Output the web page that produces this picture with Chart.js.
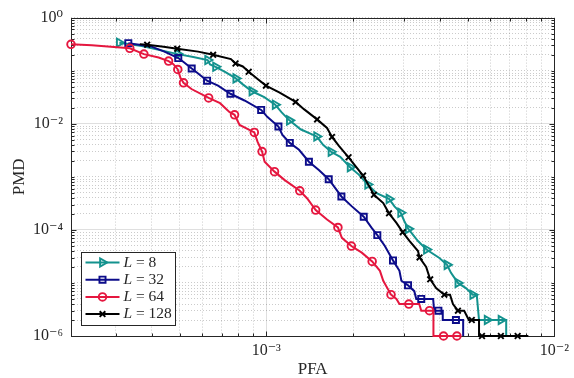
<!DOCTYPE html>
<html>
<head>
<meta charset="utf-8">
<script src="https://cdn.jsdelivr.net/npm/chart.js@4.4.1/dist/chart.umd.min.js"></script>
<style>
  html, body { margin: 0; padding: 0; background: #fff; }
</style>
</head>
<body>
<canvas id="roc" width="574" height="378"></canvas>
<script>
// axis limits
const xMin = 2.1e-4, xMax = 1e-2;
const yMin = 1e-6, yMax = 1;

// labelled ticks
const xLabelTicks = [1e-3, 1e-2];
const xLabelText = ["10\u207B\u00B3", "10\u207B\u00B2"];
const yLabelTicks = [1, 1e-2, 1e-4, 1e-6];
const yLabelText = ["10\u2070", "10\u207B\u00B2", "10\u207B\u2074", "10\u207B\u2076"];

// L values for the legend
const legendL = [8, 32, 64, 128];

// L = 8
const pfa8 = [3.09e-4, 3.70e-4, 4.93e-4, 5.58e-4, 6.26e-4, 6.38e-4, 6.67e-4, 7.24e-4, 7.84e-4, 8.29e-4,
  8.92e-4, 9.84e-4, 1.074e-3, 1.129e-3, 1.203e-3, 1.315e-3, 1.496e-3, 1.575e-3, 1.678e-3, 1.806e-3,
  1.955e-3, 2.095e-3, 2.249e-3, 2.415e-3, 2.667e-3, 2.786e-3, 2.928e-3, 3.016e-3, 3.112e-3, 3.362e-3,
  3.598e-3, 3.989e-3, 4.240e-3, 4.377e-3, 4.626e-3, 4.929e-3, 5.209e-3, 5.377e-3, 5.476e-3, 5.844e-3,
  6.53e-3, 6.804e-3, 6.804e-3];
const pmd8 = [0.3365, 0.292, 0.2051, 0.1804, 0.1585, 0.1306, 0.1183, 0.0926, 0.0715, 0.0552,
  0.0409, 0.0316, 0.02285, 0.01654, 0.01158, 0.00786, 0.00576, 0.004, 0.00296, 0.002386,
  0.001518, 0.0011, 0.000715, 0.000491, 0.000383, 0.000277, 0.0002097, 0.0001454, 0.0001044, 6.15e-5,
  4.26e-5, 2.96e-5, 2.19e-5, 1.55e-5, 1e-5, 8e-6, 6e-6, 6e-6, 2e-6, 2e-6,
  2e-6, 2e-6, 1e-6];
const mark8 = [0, 2, 4, 6, 8, 10, 12, 14, 16, 18, 20, 22, 24, 26, 28, 30, 32, 34, 36, 39, 40];

// L = 32
const pfa32 = [3.32e-4, 3.96e-4, 4.43e-4, 4.95e-4, 5.19e-4, 5.51e-4, 5.80e-4, 6.23e-4, 6.80e-4, 7.51e-4,
  8.40e-4, 9.60e-4, 1.010e-3, 1.102e-3, 1.138e-3, 1.207e-3, 1.299e-3, 1.406e-3, 1.522e-3, 1.647e-3,
  1.736e-3, 1.823e-3, 1.982e-3, 2.179e-3, 2.322e-3, 2.429e-3, 2.580e-3, 2.753e-3, 2.899e-3, 2.944e-3,
  3.105e-3, 3.264e-3, 3.316e-3, 3.451e-3, 3.795e-3, 3.825e-3, 3.957e-3, 4.098e-3, 4.098e-3, 4.553e-3,
  4.824e-3, 4.824e-3];
const pmd32 = [0.3295, 0.2895, 0.2285, 0.1727, 0.1423, 0.1099, 0.0886, 0.0648, 0.0522, 0.0367,
  0.0274, 0.01819, 0.01334, 0.00887, 0.00615, 0.004357, 0.003224, 0.001924, 0.001346, 0.000898,
  0.00061, 0.000426, 0.000277, 0.0001765, 0.000109, 7.96e-5, 4.96e-5, 2.66e-5, 1.69e-5, 1.10e-5,
  9e-6, 7e-6, 5e-6, 5e-6, 5e-6, 3e-6, 3e-6, 3e-6, 2e-6, 2e-6,
  2e-6, 1e-6];
const mark32 = [0, 3, 5, 7, 9, 11, 13, 15, 17, 19, 21, 23, 25, 27, 30, 33, 36, 39];

// L = 64
const pfa64 = [2.10e-4, 2.48e-4, 3.36e-4, 3.76e-4, 4.23e-4, 4.58e-4, 4.76e-4, 4.93e-4, 5.03e-4, 5.16e-4,
  5.50e-4, 6.31e-4, 6.91e-4, 7.46e-4, 7.76e-4, 8.08e-4, 9.09e-4, 9.33e-4, 9.67e-4, 9.87e-4,
  1.068e-3, 1.156e-3, 1.307e-3, 1.387e-3, 1.484e-3, 1.625e-3, 1.773e-3, 1.830e-3, 1.974e-3, 2.145e-3,
  2.331e-3, 2.480e-3, 2.547e-3, 2.710e-3, 2.830e-3, 2.899e-3, 3.125e-3, 3.396e-3, 3.451e-3, 3.686e-3,
  3.804e-3, 3.804e-3, 4.124e-3, 4.589e-3, 4.710e-3];
const pmd64 = [0.313, 0.302, 0.2634, 0.2051, 0.1765, 0.1518, 0.1323, 0.1053, 0.0746, 0.0589,
  0.0451, 0.0306, 0.02436, 0.01654, 0.01473, 0.00946, 0.00685, 0.00455, 0.002984, 0.001924,
  0.001251, 0.000875, 0.000545, 0.000391, 0.0002364, 0.0001564, 0.0001109, 7.09e-5, 4.96e-5, 3.72e-5,
  2.54e-5, 1.69e-5, 1.10e-5, 6e-6, 5e-6, 4e-6, 4e-6, 4e-6, 3e-6, 3e-6,
  3e-6, 1e-6, 1e-6, 1e-6, 1e-6];
const mark64 = [0, 2, 3, 5, 7, 9, 11, 14, 16, 18, 20, 22, 24, 26, 28, 30, 33, 36, 39, 42, 43];

// L = 128
const pfa128 = [3.64e-4, 3.86e-4, 4.40e-4, 4.91e-4, 5.80e-4, 6.54e-4, 7.54e-4, 7.82e-4, 8.29e-4, 8.69e-4,
  9.33e-4, 9.97e-4, 1.109e-3, 1.264e-3, 1.351e-3, 1.501e-3, 1.625e-3, 1.691e-3, 1.787e-3, 1.930e-3,
  2.034e-3, 2.167e-3, 2.262e-3, 2.364e-3, 2.547e-3, 2.667e-3, 2.830e-3, 2.975e-3, 3.145e-3, 3.362e-3,
  3.404e-3, 3.589e-3, 3.706e-3, 3.886e-3, 4.150e-3, 4.343e-3, 4.446e-3, 4.626e-3, 4.863e-3, 5.047e-3,
  5.168e-3, 5.476e-3, 5.476e-3, 5.607e-3, 6.52e-3, 7.456e-3, 8.122e-3];
const pmd128 = [0.3155, 0.3088, 0.2834, 0.26, 0.2285, 0.1991, 0.1655, 0.1363, 0.1199, 0.0954,
  0.0694, 0.0522, 0.0391, 0.02578, 0.01883, 0.01208, 0.00831, 0.00564, 0.00383, 0.002334,
  0.00162, 0.001053, 0.000706, 0.000459, 0.00032, 0.000205, 0.000135, 9.06e-5, 6.15e-5, 4.00e-5,
  3.02e-5, 2.01e-5, 1.17e-5, 8e-6, 6e-6, 6e-6, 4e-6, 3e-6, 3e-6, 2e-6,
  2e-6, 2e-6, 1e-6, 1e-6, 1e-6, 1e-6, 1e-6];
const mark128 = [1, 3, 5, 7, 9, 11, 13, 15, 17, 19, 21, 23, 25, 27, 30, 32, 34, 37, 40, 43, 44, 45];

const axisColor = "#262626";
const serif = "'Liberation Serif', 'DejaVu Serif', serif";

const series = [
    { pfa: pfa8, pmd: pmd8, marks: mark8, color: "#13928e", style: "triangle", rot: 90, r: 4.8 },
    { pfa: pfa32, pmd: pmd32, marks: mark32, color: "#0c0c8a", style: "rect", rot: 0, r: 4.3 },
    { pfa: pfa64, pmd: pmd64, marks: mark64, color: "#e5173f", style: "circle", rot: 0, r: 3.8 },
    { pfa: pfa128, pmd: pmd128, marks: mark128, color: "#000000", style: "crossRot", rot: 0, r: 4 }
];

// 1..9 x 10^k ticks inside [min, max]
function logTicks(min, max) {
    const out = [];
    for (let e = Math.floor(Math.log10(min)); e <= Math.ceil(Math.log10(max)); e++) {
        for (let m = 1; m <= 9; m++) {
            const v = Number((m * Math.pow(10, e)).toPrecision(6));
            if (v >= min * 0.999999 && v <= max * 1.000001) out.push(v);
        }
    }
    return out;
}

function findTick(v, list) {
    return list.findIndex(t => Math.abs(v / t - 1) < 1e-6);
}

// solid grid only on labelled ticks that are not on the frame
function isMajorInside(v, list, min, max) {
    return findTick(v, list) >= 0 && Math.abs(v / min - 1) > 1e-6 && Math.abs(v / max - 1) > 1e-6;
}

function axisOptions(min, max, labelTicks, labelText, title) {
    return {
        type: "logarithmic",
        min: min,
        max: max,
        afterBuildTicks: axis => {
            axis.ticks = logTicks(min, max).map(v => ({ value: v }));
        },
        ticks: {
            autoSkip: false,
            maxRotation: 0,
            color: axisColor,
            font: { family: serif, size: 16 },
            callback: value => {
                const i = findTick(value, labelTicks);
                return i >= 0 ? labelText[i] : "";
            }
        },
        grid: {
            drawTicks: false,
            lineWidth: 1,
            color: ctx => ctx.tick && isMajorInside(ctx.tick.value, labelTicks, min, max)
                ? "rgba(38,38,38,0.15)" : "rgba(38,38,38,0.24)"
        },
        border: {
            display: false,
            dash: ctx => (ctx.tick && !isMajorInside(ctx.tick.value, labelTicks, min, max)) ? [1, 2] : []
        },
        title: {
            display: true,
            text: title,
            color: axisColor,
            font: { family: serif, size: 17, lineHeight: 1 }
        }
    };
}

// box with inward tick marks on all four sides
const framePlugin = {
    id: "frame",
    beforeDatasetsDraw(chart) {
        const { ctx, chartArea: a, scales } = chart;
        const left = Math.round(a.left) + 0.5, right = Math.round(a.right) + 0.5;
        const top = Math.round(a.top) + 0.5, bottom = Math.round(a.bottom) + 0.5;
        ctx.save();
        ctx.strokeStyle = axisColor;
        ctx.lineWidth = 1;
        ctx.beginPath();
        scales.x.ticks.forEach(t => {
            const px = Math.round(scales.x.getPixelForValue(t.value)) + 0.5;
            const len = findTick(t.value, xLabelTicks) >= 0 ? 5 : 3;
            ctx.moveTo(px, bottom); ctx.lineTo(px, bottom - len);
            ctx.moveTo(px, top); ctx.lineTo(px, top + len);
        });
        scales.y.ticks.forEach(t => {
            const py = Math.round(scales.y.getPixelForValue(t.value)) + 0.5;
            const len = findTick(t.value, yLabelTicks) >= 0 ? 5 : 3;
            ctx.moveTo(left, py); ctx.lineTo(left + len, py);
            ctx.moveTo(right, py); ctx.lineTo(right - len, py);
        });
        ctx.stroke();
        ctx.strokeRect(left, top, right - left, bottom - top);
        ctx.restore();
    }
};

// legend box in the lower left corner of the plot
const legendPlugin = {
    id: "boxLegend",
    afterDatasetsDraw(chart) {
        const { ctx, chartArea: a } = chart;
        const w = 94, h = 73, rowH = 17.2;
        const left = Math.round(a.left) + 10.5;
        const top = Math.round(a.bottom) - 10.5 - h;
        ctx.save();
        ctx.fillStyle = "#fff";
        ctx.fillRect(left, top, w, h);
        ctx.strokeStyle = axisColor;
        ctx.lineWidth = 1;
        ctx.strokeRect(left, top, w, h);
        series.forEach((s, i) => {
            const cy = top + 10 + i * rowH;
            ctx.strokeStyle = s.color;
            ctx.lineWidth = 2;
            ctx.beginPath();
            ctx.moveTo(left + 4, cy);
            ctx.lineTo(left + 38, cy);
            ctx.stroke();
            ctx.fillStyle = "rgba(0,0,0,0)";
            ctx.lineWidth = 1.9;
            Chart.helpers.drawPoint(ctx, { pointStyle: s.style, rotation: s.rot, radius: s.r, borderWidth: 1.9 }, left + 21, cy);
            ctx.fillStyle = axisColor;
            ctx.textBaseline = "middle";
            ctx.textAlign = "left";
            ctx.font = "italic 15.5px " + serif;
            const tx = left + 42;
            ctx.fillText("L", tx, cy);
            const lw = ctx.measureText("L").width;
            ctx.font = "15.5px " + serif;
            ctx.fillText(" = " + legendL[i], tx + lw, cy);
        });
        ctx.restore();
    }
};

const datasets = series.map((s, i) => ({
    label: "L = " + legendL[i],
    data: s.pfa.map((x, k) => ({ x: x, y: s.pmd[k] })),
    borderColor: s.color,
    borderWidth: 2,
    tension: 0,
    fill: false,
    pointStyle: s.style,
    pointRotation: s.rot,
    pointRadius: c => s.marks.includes(c.dataIndex) ? s.r : 0,
    pointBorderWidth: 1.9,
    pointBorderColor: s.color,
    pointBackgroundColor: "rgba(0,0,0,0)",
    clip: false,
    order: series.length - i
}));

const xAxis = axisOptions(xMin, xMax, xLabelTicks, xLabelText, "PFA");
xAxis.ticks.padding = 5;
xAxis.title.padding = { top: 0, bottom: 0 };
xAxis.afterFit = axis => { axis.height = 42; };

const yAxis = axisOptions(yMin, yMax, yLabelTicks, yLabelText, "PMD");
yAxis.ticks.padding = 8;
yAxis.title.padding = { top: 10.7, bottom: 0 };
yAxis.afterFit = axis => { axis.width = 71; };

new Chart(document.getElementById("roc"), {
    type: "line",
    data: { datasets },
    options: {
        responsive: false,
        devicePixelRatio: 1,
        animation: false,
        events: [],
        layout: { padding: { top: 15, right: 15, left: 0, bottom: 0 } },
        scales: { x: xAxis, y: yAxis },
        plugins: {
            legend: { display: false },
            tooltip: { enabled: false }
        }
    },
    plugins: [framePlugin, legendPlugin]
});
</script>
</body>
</html>
